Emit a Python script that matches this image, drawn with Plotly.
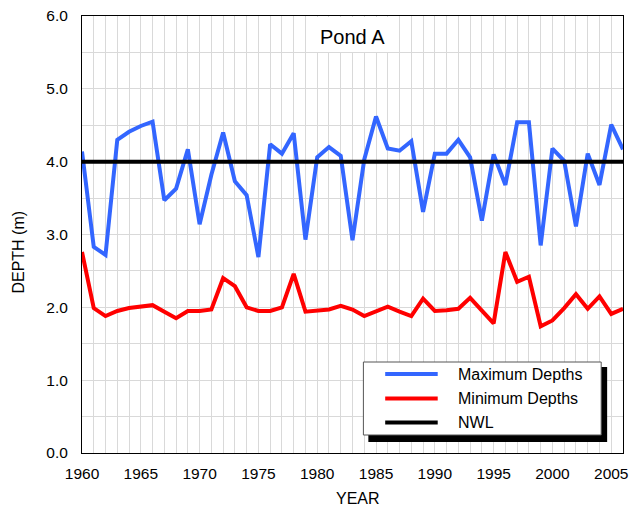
import plotly.graph_objects as go

# Annual depth record for Pond A
years = list(range(1960, 2007))
max_depths = [
    4.14, 2.83, 2.72, 4.30, 4.41, 4.49, 4.55, 3.47, 3.63, 4.17,
    3.14, 3.82, 4.40, 3.73, 3.54, 2.69, 4.24, 4.11, 4.39, 2.93,
    4.06, 4.20, 4.08, 2.92, 4.03, 4.62, 4.18, 4.15, 4.28, 3.31,
    4.11, 4.11, 4.30, 4.06, 3.19, 4.10, 3.68, 4.54, 4.54, 2.85,
    4.18, 4.01, 3.11, 4.11, 3.68, 4.51, 4.17,
]
min_depths = [
    2.76, 1.99, 1.88, 1.95, 1.99, 2.01, 2.03, 1.94, 1.85, 1.95,
    1.95, 1.97, 2.40, 2.29, 2.00, 1.95, 1.95, 2.00, 2.46, 1.94,
    1.95, 1.97, 2.02, 1.97, 1.88, 1.95, 2.01, 1.94, 1.88, 2.12,
    1.95, 1.96, 1.98, 2.13, 1.95, 1.78, 2.76, 2.35, 2.42, 1.74,
    1.82, 1.99, 2.18, 1.98, 2.15, 1.91, 1.98,
]
nwl = 4.0
series_names = ["Maximum Depths", "Minimum Depths", "NWL"]
series_colors = ["#3366FF", "#FF0000", "#000000"]

FONT = "Arial, Liberation Sans, sans-serif"
W, H = 635, 514
L, R, T, B = 82, 7, 16, 61
PW, PH = W - L - R, H - T - B


def px(x):
    return (x - L) / PW


def py(y):
    return (H - B - y) / PH


fig = go.Figure()
fig.add_trace(go.Scatter(x=years, y=max_depths, mode="lines", name=series_names[0],
                         line=dict(color=series_colors[0], width=4), showlegend=False))
fig.add_trace(go.Scatter(x=years, y=min_depths, mode="lines", name=series_names[1],
                         line=dict(color=series_colors[1], width=4), showlegend=False))
fig.add_trace(go.Scatter(x=[years[0], years[-1]], y=[nwl, nwl], mode="lines", name=series_names[2],
                         line=dict(color=series_colors[2], width=4), showlegend=False))

grid = "#d9d9d9"
fig.update_layout(
    width=W, height=H, autosize=False,
    margin=dict(l=L, r=R, t=T, b=B),
    paper_bgcolor="white", plot_bgcolor="white",
    font=dict(family=FONT, size=15.5, color="black"),
    xaxis=dict(
        range=[1960, 2006], tick0=1960, dtick=5,
        showgrid=True, gridcolor=grid, gridwidth=1,
        minor=dict(dtick=1, showgrid=True, gridcolor=grid, gridwidth=1),
        showline=True, linecolor="black", linewidth=1, mirror=True,
        ticks="", zeroline=False, ticklabelstandoff=6,
        tickfont=dict(size=15.5, color="black"),
    ),
    yaxis=dict(
        range=[0, 6], tick0=0, dtick=1, tickformat=".1f",
        showgrid=True, gridcolor=grid, gridwidth=1,
        minor=dict(dtick=0.5, showgrid=True, gridcolor=grid, gridwidth=1),
        showline=True, linecolor="black", linewidth=1, mirror=True,
        ticks="", zeroline=False, ticklabelstandoff=10,
        tickfont=dict(size=15.5, color="black"),
    ),
)


def label(text, x, y, **kw):
    d = dict(text=text, x=px(x), y=py(y), xref="paper", yref="paper",
             showarrow=False, xanchor="center", yanchor="middle",
             font=dict(size=16, color="black"))
    d.update(kw)
    return d


annotations = [
    label("Pond A", 355, 37, font=dict(size=20, color="black")),
    label("YEAR", 361, 499),
    label("DEPTH (m)", 17, 252, textangle=-90),
]

shapes = [
    # white panel behind the chart title
    dict(type="rect", xref="paper", yref="paper", layer="above",
         x0=px(310), x1=px(400), y0=py(52), y1=py(17),
         fillcolor="white", line=dict(width=0)),
    # legend box with drop shadow
    dict(type="rect", xref="paper", yref="paper", layer="above",
         x0=px(371), x1=px(612), y0=py(442), y1=py(367),
         fillcolor="black", line=dict(width=0)),
    dict(type="rect", xref="paper", yref="paper", layer="above",
         x0=px(366), x1=px(606), y0=py(435), y1=py(362),
         fillcolor="white", line=dict(color="#555555", width=1)),
]
legend_rows = [374, 398.5, 422.5]
for name, color, row in zip(series_names, series_colors, legend_rows):
    shapes.append(dict(type="line", xref="paper", yref="paper", layer="above",
                       x0=px(388), x1=px(441), y0=py(row), y1=py(row),
                       line=dict(color=color, width=4)))
    annotations.append(label(name, 459, row, xanchor="left"))

fig.update_layout(shapes=shapes, annotations=annotations)
fig.write_html("out.html")
